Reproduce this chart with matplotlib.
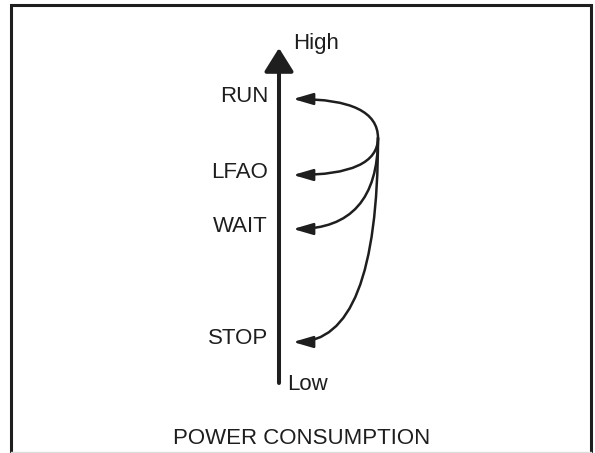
import matplotlib.pyplot as plt

plt.rcParams['font.family'] = ['Liberation Sans', 'DejaVu Sans']

# power states and the level (pixel row) where each arrow lands
states = ["RUN", "LFAO", "WAIT", "STOP"]
state_y = [99, 175, 229, 342]

axis_x = 279
axis_top, axis_bottom = 48, 383
source = (378, 138)   # common start of the curved arrows

ink = '#1e1e1e'

fig = plt.figure(figsize=(5.95, 4.53), dpi=100)
ax = fig.add_axes([0, 0, 1, 1])
ax.set_xlim(0, 595)
ax.set_ylim(453, 0)
ax.axis('off')

# frame (open at bottom)
ax.plot([10.5, 10.5, 590.5, 590.5], [453, 4.5, 4.5, 453], color=ink, lw=2.2,
        solid_joinstyle='miter')
ax.plot([10.5, 590.5], [451.5, 451.5], color='#dddddd', lw=1)

# main power axis
ax.annotate("", xy=(axis_x, axis_top), xytext=(axis_x, axis_bottom),
            arrowprops=dict(arrowstyle="-|>,head_length=0.8,head_width=0.5",
                            mutation_scale=18, lw=2.9, color=ink,
                            shrinkA=0, shrinkB=0))
ax.text(293, 43, "High", fontsize=16, ha='left', va='center', color=ink)
ax.text(287, 385, "Low", fontsize=16, ha='left', va='center', color=ink)

for name, y in zip(states, state_y):
    ax.text(268, y - 3, name, fontsize=16, ha='right', va='center', color=ink)
    ax.annotate("", xy=(axis_x + 14, y), xytext=source,
                arrowprops=dict(arrowstyle="-|>,head_length=1.2,head_width=0.35",
                                mutation_scale=10, lw=1.8, color=ink,
                                shrinkA=0, shrinkB=0,
                                connectionstyle="angle3,angleA=90,angleB=0"))

ax.text(302, 438, "POWER CONSUMPTION", fontsize=16, ha='center', va='center',
        color=ink)

fig.savefig("out.png", dpi=100)
